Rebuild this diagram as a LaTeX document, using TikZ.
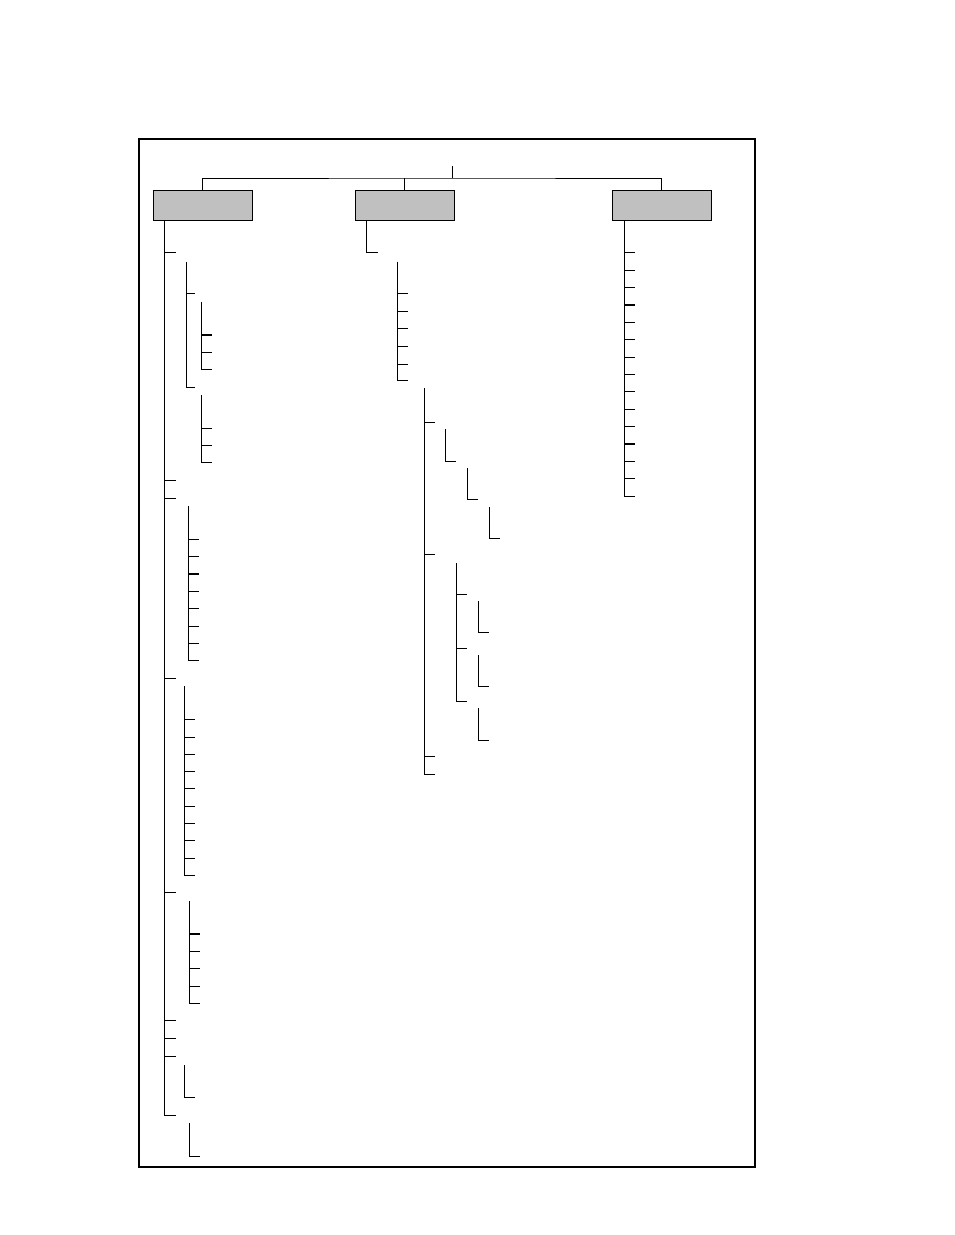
\documentclass[tikz,border=0pt]{standalone}
\usetikzlibrary{positioning}
\definecolor{deptgray}{RGB}{192,192,192}

\tikzset{
  dept/.style={draw, fill=deptgray, line width=1pt, minimum width=99pt, minimum height=30pt, inner sep=0pt},
  spine/.style={line width=1pt},
  leaf/.style={line width=1pt},
  boldleaf/.style={line width=2pt},
}
\newcommand{\twig}[4]{%
  \draw[spine] (#1,#2) |- ({#1+11},#3);
  \foreach \t in {#4} \draw[leaf] (#1,\t) -- ++(11,0);
}

\begin{document}
\begin{tikzpicture}[x=1pt, y=-1pt]
    \useasboundingbox (0,0) rectangle (954,1235);
    \draw[line width=2pt] (139,139) rectangle (755,1167);

    \node[dept] (dept1) at (202.5,205) {};
    \node[dept] (dept2) at (404.5,205) {};
    \node[dept] (dept3) at (661.5,205) {};

    \coordinate (apex) at (452,166);
    \coordinate (bus) at (452,178);
    \draw[spine] (apex) -- (bus);
    \draw[spine] (dept1.north) |- (bus) -| (dept3.north);
    \draw[spine] (dept2.north) -- (dept2.north |- bus);

    % first unit
    \draw[spine] ([xshift=12pt]dept1.south west) |- (176,1115);
    \foreach \t in {252,480,498,678,892,1020,1038,1056} \draw[leaf] (165,\t) -- ++(11,0);
    \draw[spine] (186,262) |- (195,387);
    \draw[leaf] (186,293) -- ++(9,0);
    \twig{201}{302}{369}{352}
    \draw[boldleaf] (201,335) -- ++(11,0);
    \twig{201}{395}{462}{428,445}
    \twig{188}{506}{660}{539,556.5,591,608,626,643}
    \draw[boldleaf] (188,573.5) -- ++(11,0);
    \twig{184}{686}{875}{719,737,754,771,788,806,823,840,858}
    \twig{189}{901}{1003}{951,968,986}
    \draw[boldleaf] (189,934) -- ++(11,0);
    \draw[spine] (184.5,1065) |- (195,1097);
    \draw[spine] (189,1123) |- (200,1156);

    % second unit
    \draw[spine] ([xshift=12pt]dept2.south west) |- (378,252);
    \twig{397}{261.5}{380}{293,311,328,346,364}
    \twig{424}{388}{774}{422,554,756}
    \draw[spine] (445.5,429) |- (456,461);
    \draw[spine] (467,468) |- (478,499);
    \draw[spine] (489,507) |- (499.5,538);
    \twig{456}{563}{701}{594,648}
    \draw[spine] (478,601) |- (489,632);
    \draw[spine] (478,655) |- (489,686);
    \draw[spine] (478,708) |- (489,740);

    % third unit
    \draw[spine] ([xshift=12.5pt]dept3.south west) |- (635,496);
    \foreach \t in {252,270,287,322,339,357,374,391,409,426,461,478} \draw[leaf] (624.5,\t) -- ++(10.5,0);
    \foreach \t in {305,444} \draw[boldleaf] (624.5,\t) -- ++(10.5,0);
\end{tikzpicture}
\end{document}
